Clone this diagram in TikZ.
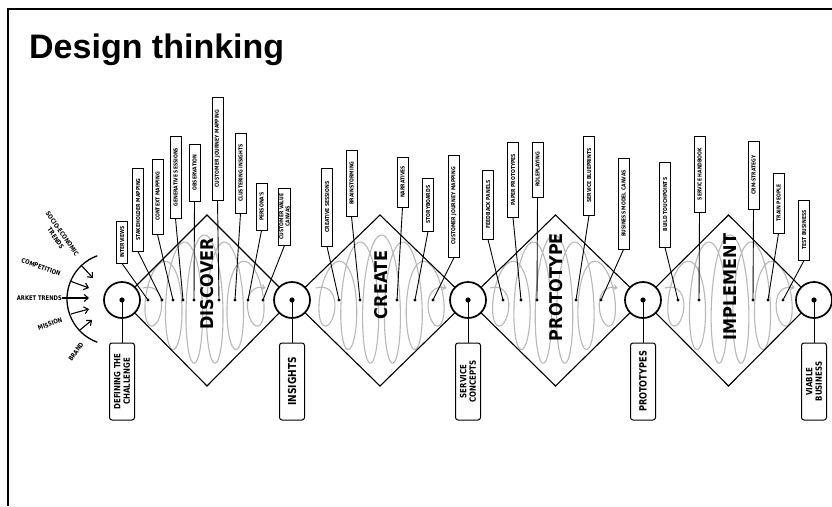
\documentclass[tikz,border=0pt]{standalone}
\usepackage{fontspec}
\setmainfont{DejaVu Sans}
\newfontfamily\titlef{Liberation Sans}
\newfontfamily\lblf{DejaVu Sans}[FakeStretch=0.82]
\newfontfamily\stagef{DejaVu Sans}[FakeStretch=0.92]
\usetikzlibrary{arrows.meta}
\newcommand\tlab[6]{%
  \node[lbl, minimum width={#4-#3}] (#1) at (#2,{-(#3+#4)/2}) {#6};
  \coordinate (#1d) at (#5,-300);
  \fill (#1d) circle (1.6);
  \draw[conn] (#1.west) -- (#1d);
}
\newcommand\coilpath[2]{%
  \draw[coil, -{Straight Barb[length=3pt,width=5pt]}] plot[domain=0:6, samples=400, smooth, variable=\u]
   ({#1+(#2-#1)*\u/6+13*sin(360*\u)}, {-300+(12+53*sin(30*\u))*cos(360*\u)});
}
\begin{document}
\begin{tikzpicture}[x=1pt,y=1pt,
  lbl/.style={draw, line width=1pt, rotate=90, font=\lblf\bfseries\fontsize{5.5}{6.2}\selectfont, inner sep=0.6pt, minimum height=11pt, align=center},
  bbox/.style={draw, line width=1pt, rounded corners=2.5pt, rotate=90, minimum width=77pt, minimum height=25pt, inner sep=1pt, align=center},
  bfont/.style={font=\lblf\bfseries\fontsize{8.6}{9.4}\selectfont},
  hub/.style={circle, draw, line width=1.7pt, minimum size=36pt, inner sep=0pt},
  conn/.style={line width=0.9pt},
  dia/.style={line width=1.1pt},
  coil/.style={draw=black!28, line width=1.1pt},
  stage/.style={rotate=90, inner sep=0pt, font=\stagef\bfseries\fontsize{17.5}{18}\selectfont},
  side/.style={font=\lblf\bfseries\fontsize{6.4}{8}\selectfont, align=center, inner sep=0pt},
  inarrow/.style={line width=1.1pt, -{Straight Barb[length=4pt,width=7pt]}}
]
\useasboundingbox (0,0) rectangle (832,-506);
\fill[white] (0,0) rectangle (832,-506);
% frame
\draw[line width=2.5pt] (8,-506) -- (8,-9) -- (832,-9);
% title
\node[anchor=base west, inner sep=0pt, font=\titlef\bfseries\fontsize{34}{36}\selectfont] (title) at (29,-58) {Design thinking};

% coils
\coilpath{143}{266}
\coilpath{316}{447}
\coilpath{490}{618}
\coilpath{665}{795}

% hubs
\node[hub] (h1) at (122,-300) {};
\node[hub] (h2) at (292,-300) {};
\node[hub] (h3) at (468,-300) {};
\node[hub] (h4) at (643,-300) {};
\node[hub] (h5) at (814,-300) {};
\foreach \h in {h1,h2,h3,h4,h5} \fill (\h.center) circle (2.6);

% diamonds
\coordinate (t1) at (207,-215); \coordinate (u1) at (207,-386);
\coordinate (t2) at (380,-215); \coordinate (u2) at (380,-386);
\coordinate (t3) at (555.5,-215); \coordinate (u3) at (555.5,-386);
\coordinate (t4) at (728.5,-215); \coordinate (u4) at (728.5,-386);
\draw[dia] (h1) -- (t1) -- (h2); \draw[dia] (h1) -- (u1) -- (h2);
\draw[dia] (h2) -- (t2) -- (h3); \draw[dia] (h2) -- (u2) -- (h3);
\draw[dia] (h3) -- (t3) -- (h4); \draw[dia] (h3) -- (u3) -- (h4);
\draw[dia] (h4) -- (t4) -- (h5); \draw[dia] (h4) -- (u4) -- (h5);

% stage names
\node[stage] (sd) at (207,-284) {DISCOVER};
\node[stage] (sc) at (381,-285) {CREATE};
\node[stage] (sp) at (556,-287) {PROTOTYPE};
\node[stage] (si) at (730,-287) {IMPLEMENT};

% bottom boxes
\node[bbox, bfont] (b1) at (122,-381.5) {DEFINING THE\\CHALLENGE};
\node[bbox, font=\lblf\bfseries\fontsize{11}{12}\selectfont] (b2) at (292,-381.5) {INSIGHTS};
\node[bbox, bfont] (b3) at (468,-381.5) {SERVICE\\CONCEPTS};
\node[bbox, font=\lblf\bfseries\fontsize{10}{11}\selectfont] (b4) at (643,-381.5) {PROTOTYPES};
\node[bbox, bfont] (b5) at (814,-381.5) {VIABLE\\BUSINESS};
\foreach \i in {1,...,5} \draw[conn] (h\i.center) -- (b\i.east);

% top labels: discover
\tlab{d1}{122}{221}{263}{148}{INTERVIEWS}
\tlab{d2}{138}{168}{251}{162}{STAKEHOLDER MAPPING}
\tlab{d3}{157.5}{159}{234}{173}{CONTEXT MAPPING}
\tlab{d4}{175.5}{136}{218}{183}{GENERATIVE SESSIONS}
\tlab{d5}{194.5}{144}{201}{194}{OBSERVATION}
\tlab{d6}{217.5}{97}{200}{219}{CUSTOMER JOURNEY MAPPING}
\tlab{d7}{240.5}{133}{213}{235}{CLUSTERING INSIGHTS}
\tlab{d8}{261.5}{183}{230}{248}{PERSONA'S}
\tlab{d9}{284.5}{188}{245}{263}{CUSTOMER VALUE\\CANVAS}
% create
\tlab{c1}{327}{168}{246}{339}{CREATIVE SESSIONS}
\tlab{c2}{351.5}{150}{216}{360}{BRAINSTORMING}
\tlab{c3}{402.5}{157}{207}{397}{NARRATIVES}
\tlab{c4}{428}{178}{231}{415}{STORYBOARDS}
\tlab{c5}{454}{155}{257}{433}{CUSTOMER JOURNEY MAPPING}
% prototype
\tlab{p1}{488}{170}{239}{503}{FEEDBACK PANELS}
\tlab{p2}{513}{142}{217}{521}{PAPER PROTOTYPES}
\tlab{p3}{537.5}{142}{197}{537}{ROLEPLAYING}
\tlab{p4}{589}{136}{215}{576}{SERVICE BLUEPRINTS}
\tlab{p5}{623.5}{158}{249}{601}{BUSINESS MODEL CANVAS}
% implement
\tlab{i1}{665}{162}{247}{678}{BUILD TOUCHPOINTS}
\tlab{i2}{699.5}{136}{212}{699}{SERVICE HANDBOOK}
\tlab{i3}{753.5}{141}{209}{753}{CRM-STRATEGY}
\tlab{i4}{778.5}{173}{233}{768}{TRAIN PEOPLE}
\tlab{i5}{804}{200}{260}{783}{TEST BUSINESS}

% left inputs
\draw[line width=1.3pt] (113,-299) ++(110:46) arc (110:250:46);
\node[side, rotate=-55] (se) at (59,-236) {SOCIO-ECONOMIC\\TRENDS};
\node[side, rotate=-20] (comp) at (41,-267) {COMPETITION};
\node[side, anchor=east] (mt) at (62,-298) {ARKET TRENDS};
\node[side, rotate=20] (mis) at (50,-324) {MISSION};
\node[side, rotate=55] (br) at (76,-352) {BRAND};
\coordinate (a1s) at (81,-265); \coordinate (a1e) at (93,-278);
\coordinate (a2s) at (70,-281); \coordinate (a2e) at (89,-288);
\coordinate (a4s) at (71,-314); \coordinate (a4e) at (89,-309);
\coordinate (a5s) at (80,-330); \coordinate (a5e) at (92,-320);
\coordinate (a3e) at (89,-298);
\draw[inarrow] (a1s) -- (a1e);
\draw[inarrow] (a2s) -- (a2e);
\draw[inarrow] (mt.east) -- (a3e);
\draw[inarrow] (a4s) -- (a4e);
\draw[inarrow] (a5s) -- (a5e);
\end{tikzpicture}
\end{document}
